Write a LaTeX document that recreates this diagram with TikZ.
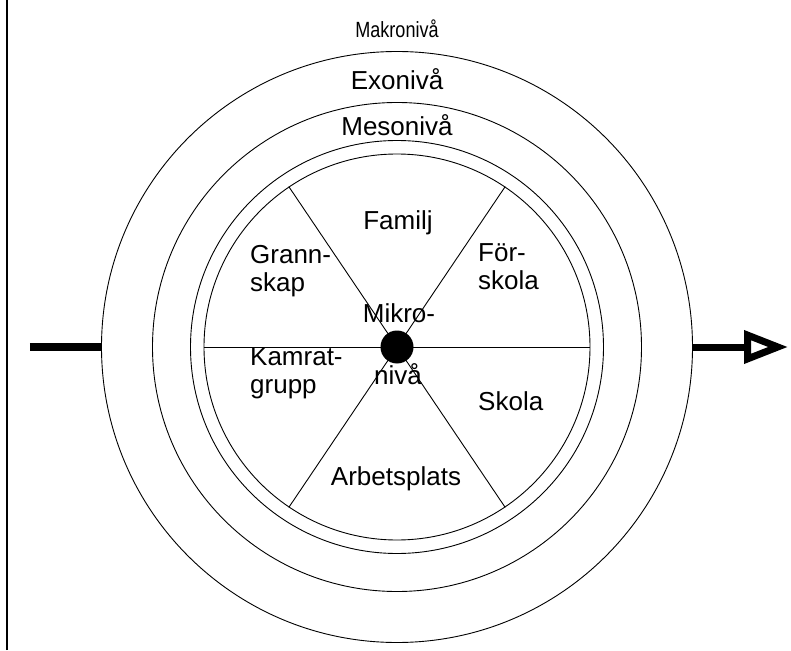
\documentclass[tikz,border=0pt]{standalone}
\usepackage{fontspec}
\setmainfont{Liberation Sans}
\usetikzlibrary{arrows.meta}

\begin{document}
\begin{tikzpicture}[
    x=1pt,y=1pt,
    ring/.style={draw,circle,line width=0.9pt,inner sep=0pt},
    spoke/.style={line width=0.9pt},
    level/.style={font=\fontsize{26}{28}\selectfont,inner sep=0pt,anchor=base},
    sector/.style={font=\fontsize{26}{28}\selectfont,align=left,inner sep=0pt,anchor=base west},
    flow/.style={line width=8pt},
]
\useasboundingbox (-397,-303) rectangle (394,347);

% Margin rule
\draw[line width=2pt] (-390,-303) -- (-390,347);

% Rings
\node[ring,minimum size=591pt] (makro) at (0,0) {};
\node[ring,minimum size=489pt] (exo) at (0,0) {};
\node[ring,minimum size=413pt] (meso) at (0,0) {};
\node[ring,minimum size=386pt] (mikro) at (0,0) {};

% Sectors
\draw[spoke] (mikro.west) -- (mikro.east);
\draw[spoke] (mikro.56) -- (mikro.236);
\draw[spoke] (mikro.124) -- (mikro.304);
\node[circle,fill,minimum size=33pt,inner sep=0pt] (dot) at (0,0) {};

% Level names
\node[level,font=\fontsize{22}{24}\selectfont,xscale=0.82,transform shape] (makrotxt) at (0,309) {Makronivå};
\node[level] (exotxt) at (0,257) {Exonivå};
\node[level] (mesotxt) at (0,211) {Mesonivå};
\node[level] (mikrotxt) at (2,24) {Mikro-};
\node[level] (nivatxt) at (1,-37) {nivå};

% Sector names
\node[level] (familj) at (1,117) {Familj};
\node[sector] (grannskap) at (-147,55) {Grann-\\skap};
\node[sector] (forskola) at (81,57) {För-\\skola};
\node[sector] (kamrat) at (-147,-46) {Kamrat-\\grupp};
\node[sector] (skola) at (81,-63) {Skola};
\node[level] (arbete) at (-1,-138) {Arbetsplats};

% In and out
\coordinate (in) at (-367,0);
\coordinate (out) at (391,0);
\draw[flow] (in) -- (makro.west);
\draw[flow,line width=7pt,-{Triangle[open,length=44pt,width=32pt,line width=7pt]}] (makro.east) -- (out);
\end{tikzpicture}
\end{document}
